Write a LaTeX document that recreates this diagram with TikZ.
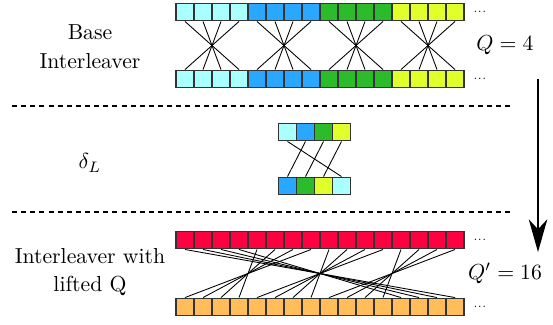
\documentclass[tikz,border=0pt]{standalone}
\usepackage{amsmath}
\usepackage{tikz}
\usetikzlibrary{positioning,arrows.meta}

\definecolor{cCyan}{RGB}{170,255,255}
\definecolor{cBlue}{RGB}{42,168,255}
\definecolor{cGreen}{RGB}{43,187,43}
\definecolor{cYellow}{RGB}{225,255,42}
\definecolor{cRed}{RGB}{255,0,64}
\definecolor{cOrange}{RGB}{255,190,90}

\tikzset{
  cell/.style={draw=black!80, line width=0.6pt, inner sep=0pt,
    minimum width=8.28pt, minimum height=8.1pt},
  wire/.style={black, line width=0.4pt},
  sep/.style={line width=0.6pt, dash pattern=on 2.3pt off 1.9pt},
  more/.style={inner sep=0pt, font=\tiny}
}

\begin{document}
\begin{tikzpicture}[x=0.46pt, y=-0.46pt]
            \useasboundingbox (0,0) rectangle (553,324);
            % base interleaver
            \foreach \b/\c in {0/cCyan,1/cBlue,2/cGreen,3/cYellow}{
              \foreach \k in {0,...,3}{
                \pgfmathtruncatemacro\n{4*\b+\k}
                \node[cell, fill=\c] (t\n) at (185+18*\n, 12) {};
                \node[cell, fill=\c] (b\n) at (185+18*\n, 79) {};
              }
            }
            \foreach \b in {0,...,3}{
              \foreach \k in {0,...,3}{
                \pgfmathtruncatemacro\n{4*\b+\k}
                \pgfmathtruncatemacro\m{4*\b+3-\k}
                \draw[wire] (t\n.south) -- (b\m.north);
              }
            }
            % delta_L
            \foreach \k/\c in {0/cCyan,1/cBlue,2/cGreen,3/cYellow}
              \node[cell, fill=\c] (d\k) at (287.5+18*\k, 132) {};
            \foreach \k/\c in {0/cBlue,1/cGreen,2/cYellow,3/cCyan}
              \node[cell, fill=\c] (e\k) at (287.5+18*\k, 186) {};
            \draw[wire] (d0.south) -- (e3.north);
            \draw[wire] (d1.south) -- (e0.north);
            \draw[wire] (d2.south) -- (e1.north);
            \draw[wire] (d3.south) -- (e2.north);
            % lifted interleaver
            \foreach \n in {0,...,15}{
              \node[cell, fill=cRed] (r\n) at (185+18*\n, 240) {};
              \node[cell, fill=cOrange] (o\n) at (185+18*\n, 307) {};
            }
            \foreach \b in {0,...,3}{
              \foreach \k in {0,...,3}{
                \pgfmathtruncatemacro\n{4*\b+\k}
                \pgfmathtruncatemacro\m{4*mod(\b+3,4)+3-\k}
                \draw[wire] (r\n.south) -- (o\m.north);
              }
            }
            % dots
            \node[more, right=3.8pt of t15] (tdots) {...};
            \node[more, right=3.8pt of b15] (bdots) {...};
            \node[more, right=3.8pt of r15] (rdots) {...};
            \node[more, right=3.8pt of o15] (odots) {...};
            % labels
            \node[align=center] (base) at (90,47) {Base\\[1.5pt]Interleaver};
            \node (delta) at (90,163) {$\delta_L$};
            \node[align=center] (lifted) at (90,272) {Interleaver with\\[1pt]lifted Q};
            \node (q) at (505,45) {$Q=4$};
            \node (qq) at (505,273) {$Q'=16$};
            % separators and arrow
            \draw[sep] (12,106) -- (510,106);
            \draw[sep] (12,212) -- (510,212);
            \coordinate (arrtop) at (538,79);
            \coordinate (arrbot) at (538,252);
            \draw[line width=1pt, -{Stealth[length=15pt, width=8.5pt, inset=4.5pt]}] (arrtop) -- (arrbot);
\end{tikzpicture}
\end{document}
